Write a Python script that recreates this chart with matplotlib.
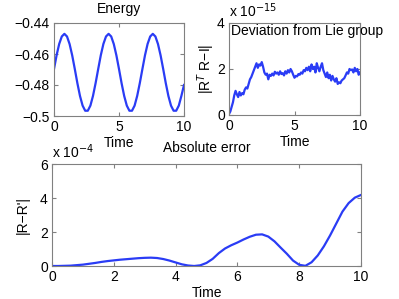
import matplotlib
matplotlib.use('Agg')
import matplotlib.pyplot as plt
import numpy as np

plt.rcParams['font.family'] = ['Liberation Sans', 'DejaVu Sans']
plt.rcParams['font.size'] = 10

# --- data ---
t_energy = np.arange(0, 10.0001, 0.2)
energy = [-0.4697, -0.4608, -0.4535, -0.4487, -0.4470, -0.4487, -0.4536, -0.4609, -0.4697,
          -0.4789, -0.4871, -0.4933, -0.4966, -0.4966, -0.4933, -0.4870, -0.4788,
          -0.4697, -0.4608, -0.4535, -0.4487, -0.4470, -0.4487, -0.4536, -0.4609, -0.4697,
          -0.4789, -0.4871, -0.4933, -0.4966, -0.4966, -0.4933, -0.4870, -0.4788,
          -0.4697, -0.4608, -0.4535, -0.4487, -0.4470, -0.4487, -0.4536, -0.4609, -0.4697,
          -0.4789, -0.4871, -0.4933, -0.4966, -0.4966, -0.4933, -0.4870, -0.4800]

t_dev = np.arange(0, 10.0001, 0.1)
deviation = [0.05, 0.15, 0.35, 0.55, 0.85, 1.05, 0.90, 0.78, 1.00, 0.85,
             0.95, 0.90, 1.10, 1.20, 1.15, 1.35, 1.55, 1.65, 1.80, 1.95,
             2.10, 2.25, 2.05, 2.20, 2.15, 2.30, 2.10, 1.85, 1.75, 1.80,
             1.55, 1.75, 1.70, 1.80, 1.72, 1.88, 1.80, 1.85, 1.75, 1.90,
             1.78, 1.82, 1.72, 1.90, 1.80, 1.95, 1.85, 2.00, 1.90, 1.75,
             1.62, 1.70, 1.68, 1.78, 1.75, 1.85, 1.80, 1.95, 1.90, 2.05,
             1.95, 2.10, 1.90, 2.20, 2.00, 2.10, 1.85, 2.25, 2.05, 1.90,
             2.10, 2.25, 1.95, 1.80, 1.65, 1.85, 1.60, 1.75, 1.50, 1.70,
             1.55, 1.45, 1.60, 1.35, 1.42, 1.38, 1.50, 1.55, 1.60, 1.72,
             1.85, 1.80, 2.00, 1.95, 1.98, 1.85, 2.05, 1.90, 2.00, 1.75,
             1.85]  # x 1e-15

t_err = np.arange(0, 10.0001, 0.2)
abs_err = [0.00, 0.00, 0.01, 0.02, 0.05, 0.08, 0.13, 0.18, 0.24, 0.29,
           0.33, 0.37, 0.40, 0.43, 0.46, 0.48, 0.49, 0.47, 0.41, 0.32,
           0.21, 0.10, 0.03, 0.00, 0.04, 0.18, 0.42, 0.76, 1.03, 1.22,
           1.38, 1.56, 1.72, 1.84, 1.86, 1.73, 1.45, 1.08, 0.72, 0.32,
           0.07, 0.01, 0.22, 0.62, 1.16, 1.80, 2.50, 3.20, 3.70, 4.02,
           4.18]  # x 1e-4

blue = '#2a3cf5'
grey = '#808080'

W, H = 399, 299
fig = plt.figure(figsize=(W / 100, H / 100), dpi=100)

def box(l, t, r, b):
    return [l / W, 1 - b / H, (r - l) / W, (b - t) / H]

def matlab_style(ax):
    for s in ax.spines.values():
        s.set_color(grey)
        s.set_linewidth(0.8)
    ax.tick_params(direction='in', top=True, right=True, length=3,
                   color=grey, labelsize=10, pad=3)

ax1 = fig.add_axes(box(54, 23, 184, 116))
ax1.plot(t_energy, energy, color=blue, lw=1.6)
ax1.set_xlim(0, 10)
ax1.set_ylim(-0.5, -0.44)
ax1.set_xticks([0, 5, 10])
ax1.set_yticks([-0.5, -0.48, -0.46, -0.44])
ax1.set_yticklabels(['\u22120.5', '\u22120.48', '\u22120.46', '\u22120.44'])
ax1.set_title('Energy', fontsize=10, pad=7)
ax1.set_xlabel('Time', labelpad=1)
matlab_style(ax1)

ax2 = fig.add_axes(box(229, 23, 360, 115))
ax2.plot(t_dev, deviation, color=blue, lw=1.6)
ax2.set_xlim(0, 10)
ax2.set_ylim(0, 4)
ax2.set_xticks([0, 5, 10])
ax2.set_yticks([0, 2, 4])
ax2.set_xlabel('Time', labelpad=1)
ax2.set_ylabel('|R$^T$ R\u2212I|', labelpad=0)
ax2.text(0.0, 1.03, 'x 10$^{-15}$', transform=ax2.transAxes, fontsize=10,
         ha='left', va='bottom')
fig.text(307 / W, 1 - 31 / H, 'Deviation from Lie group', ha='center', va='center',
         fontsize=10)
matlab_style(ax2)

ax3 = fig.add_axes(box(52, 164, 361, 266))
ax3.plot(t_err, abs_err, color=blue, lw=1.6)
ax3.set_xlim(0, 10)
ax3.set_ylim(0, 6)
ax3.set_xticks([0, 2, 4, 6, 8, 10])
ax3.set_yticks([0, 2, 4, 6])
ax3.set_title('Absolute error', fontsize=10, pad=9)
ax3.set_xlabel('Time', labelpad=1)
ax3.set_ylabel("|R\u2212R'|", labelpad=7)
ax3.text(0.0, 1.03, 'x 10$^{-4}$', transform=ax3.transAxes, fontsize=10,
         ha='left', va='bottom')
matlab_style(ax3)

fig.savefig('out.png', dpi=100)
